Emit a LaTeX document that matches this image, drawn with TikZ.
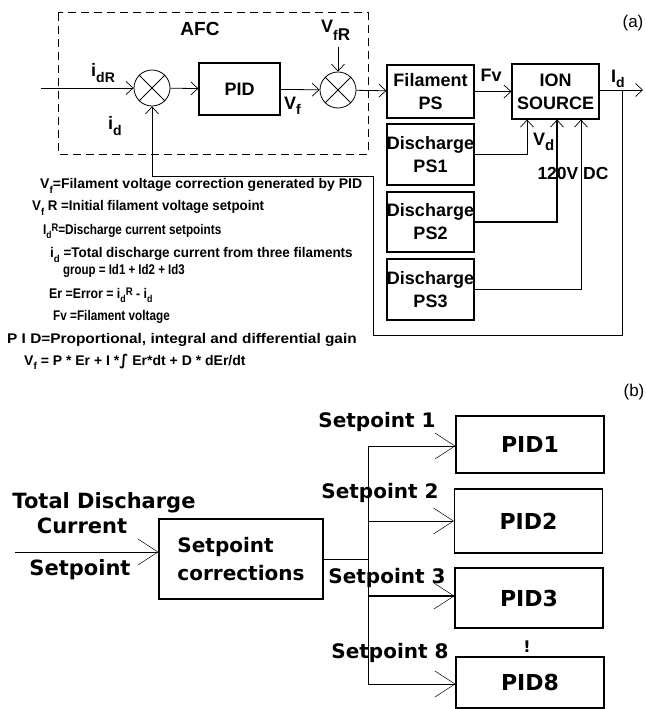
\documentclass[tikz,border=0pt]{standalone}
\usepackage{fontspec}
\usepackage{graphicx}
\setmainfont{Liberation Sans}
\newfontfamily\dvs{DejaVu Sans}
\usetikzlibrary{arrows.meta}
\newcommand\fs[1]{\fontsize{#1}{#1}\selectfont}
\newcommand\sbs[2][10]{\raisebox{-0.3em}{\fs{#1}#2}}
\newcommand\sps[2][10]{\raisebox{0.2em}{\fs{#1}#2}}
\newcommand\hsc[2]{\scalebox{#1}[1]{#2}}
\begin{document}
\begin{tikzpicture}[x=1pt,y=-1pt,
  box/.style={draw,line width=1.2pt,inner sep=0pt,font=\fontsize{18}{23}\selectfont\bfseries,align=center,minimum width=87pt},
  sum/.style={draw,circle,minimum size=36pt,inner sep=0pt,line width=0.8pt},
  ln/.style={line width=0.8pt},
  arr/.style={ln,-{Straight Barb[length=7pt,width=13pt,line width=0.7pt]}},
  barr/.style={line width=0.9pt,-{Straight Barb[length=20pt,width=26pt,line width=0.5pt]}},
  pbox/.style={draw,line width=1.2pt,minimum width=148pt,inner sep=0pt,font=\dvs\fs{22}\bfseries},
  lbl/.style={font=\fs{18}\bfseries,inner sep=0pt},
  leg/.style={font=\fs{14}\bfseries,anchor=west,inner sep=0pt},
  blab/.style={font=\dvs\fs{20}\bfseries,inner sep=0pt},
  blabl/.style={font=\dvs\fs{21}\bfseries,inner sep=0pt}
]
\useasboundingbox (0,0) rectangle (645,709);
% ---------- (a) ----------
\draw[dash pattern=on 8pt off 5pt, line width=1pt] (58,13) rectangle (368,154);
\node[lbl,font=\fs{19}\bfseries] (afc) at (200,29) {AFC};
\node[font=\fs{17}] (alab) at (633,23) {(a)};

\node[sum] (c1) at (152,88) {};
\draw[ln] (c1.north west) -- (c1.south east) (c1.north east) -- (c1.south west);
\node[box,minimum width=81pt,minimum height=52pt] (pid) at (239.5,89) {PID};
\node[sum] (c2) at (338,90) {};
\draw[ln] (c2.north west) -- (c2.south east) (c2.north east) -- (c2.south west);
\node[box,minimum height=53pt] (fps) at (430.5,91.5) {Filament\\PS};
\node[box,minimum height=61pt] (d1) at (430.5,154.5) {Discharge\\PS1};
\node[box,minimum height=60pt] (d2) at (430.5,222) {Discharge\\PS2};
\node[box,minimum height=61pt] (d3) at (430.5,289.5) {Discharge\\PS3};
\node[box,minimum height=55pt] (ion) at (555.5,91.5) {ION\\SOURCE};

\coordinate (in) at (41,88);
\coordinate (vfr) at (338,47);
\coordinate (out) at (643,90);
\coordinate (j) at (622,90);
\coordinate (fb1) at (373,335);
\coordinate (fb2) at (152,176);

\draw[arr] (in) -- (c1);
\draw[arr] (c1) -- (pid);
\draw[arr] (pid) -- (c2);
\draw[arr] (vfr) -- (c2);
\draw[arr] (c2) -- (fps);
\draw[arr] (fps) -- (ion);
\draw[arr] (ion.east |- out) -- (out);
\draw[arr] (j) |- (fb1) |- (fb2) -- (c1.south);
\draw[arr] (d1.east) -| ([xshift=-28.5pt]ion.south);
\draw[arr,line width=1.6pt] (d2.east) -| ([xshift=1.5pt]ion.south);
\draw[arr] (d3.east) -| ([xshift=25.5pt]ion.south);

\node[lbl,anchor=west] (idr) at (91,73) {i\sbs[14]{dR}};
\node[lbl,anchor=west] (id) at (108,126) {i\sbs[14]{d}};
\node[lbl,anchor=west] (vf) at (284,106) {V\sbs[14]{f}};
\node[lbl,anchor=west] (vfrl) at (321,30) {V\raisebox{-0.45em}{\fs{14}f\fs{17}R}};
\node[lbl] (fv) at (491,75) {Fv};
\node[lbl,anchor=west] (vd) at (533,142) {V\sbs[15]{d}};
\node[lbl,font=\fs{17.5}\bfseries] (dc) at (573,173) {120V DC};
\node[lbl,anchor=west] (idl) at (611,79) {I\sbs[14]{d}};

% legend
\node[leg] (l1) at (40,186) {V\sbs{f}=Filament voltage correction generated by PID};
\node[leg] (l2) at (32,208) {\hsc{0.95}{V\sbs{f} R =Initial filament voltage setpoint}};
\node[leg] (l3) at (43,231) {\hsc{0.84}{I\sbs{d}\sps[11]{R}=Discharge current setpoints}};
\node[leg] (l4) at (50,255) {\hsc{0.96}{i\sbs{d} =Total discharge current from three filaments}};
\node[leg] (l5) at (63,271) {\hsc{0.82}{group = Id1 + Id2 + Id3}};
\node[leg] (l6) at (49,295) {\hsc{0.88}{Er =Error = i\sbs{d}\sps[11]{R} - i\sbs{d}}};
\node[leg] (l7) at (53,317) {\hsc{0.84}{Fv =Filament voltage}};
\node[leg] (l8) at (7,340) {\hsc{1.1}{P I D=Proportional, integral and differential gain}};
\node[leg,font=\fs{14}\bfseries] (l9) at (24,362) {V\sbs{f} = P * Er + I *{\dvs\fs{15}∫} Er*dt + D * dEr/dt};

% ---------- (b) ----------
\node[font=\fs{17}] (blab) at (634,392) {(b)};
\node[draw,line width=1.2pt,minimum width=164pt,minimum height=80pt,align=left,font=\dvs\fontsize{20}{28}\selectfont\bfseries] (sc) at (241,559) {Setpoint\\corrections};
\node[pbox,minimum height=57pt] (p1) at (530,444.5) {PID1};
\node[pbox,minimum height=64pt] (p2) at (528.5,521) {PID2};
\node[pbox,minimum height=60pt] (p3) at (529,598) {PID3};
\node[pbox,minimum height=51pt] (p8) at (530,682.5) {PID8};
\node[font=\dvs\fs{16}\bfseries] (dots) at (527,647) {!};

\coordinate (tin) at (15,552);
\coordinate (b1) at (368,446);
\coordinate (b2) at (368,521);
\coordinate (b3) at (368,596);
\coordinate (b8) at (368,684);
\coordinate (bj) at (368,559);

\draw[barr] (tin) -- (tin -| sc.west);
\draw[ln] (sc.east) -- (bj);
\draw[ln] (b1) -- (b8);
\draw[barr] (b1) -- (b1 -| p1.west);
\draw[barr] (b2) -- (b2 -| p2.west);
\draw[barr,line width=1.4pt] (b3) -- (b3 -| p3.west);
\draw[barr] (b8) -- (b8 -| p8.west);

\node[blabl] (t1) at (104,503) {Total Discharge};
\node[blabl] (t2) at (82,526) {Current};
\node[blabl] (t3) at (80,570) {Setpoint};
\node[blab] (s1) at (377,422) {Setpoint 1};
\node[blab] (s2) at (380,493) {Setpoint 2};
\node[blab] (s3) at (387,578) {Setpoint 3};
\node[blab] (s8) at (390,653) {Setpoint 8};
\end{tikzpicture}
\end{document}
